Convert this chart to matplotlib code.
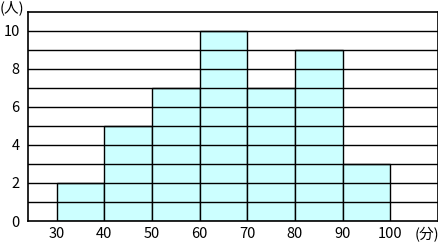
import matplotlib
matplotlib.use('Agg')
import matplotlib.pyplot as plt

plt.rcParams['font.family'] = ['Noto Sans CJK JP', 'DejaVu Sans']

# score bins (分) and number of people (人)
bin_left  = [30, 40, 50, 60, 70, 80, 90]
counts    = [2, 5, 7, 10, 7, 9, 3]
bin_width = 10
x_ticks   = [30, 40, 50, 60, 70, 80, 90, 100]
y_ticks   = [0, 2, 4, 6, 8, 10]

fig = plt.figure(figsize=(4.39, 2.43), dpi=100)
ax = fig.add_axes([28 / 439, 22 / 243, 410 / 439, 209 / 243])

ax.bar(bin_left, counts, width=bin_width, align='edge',
       color='#ccffff', edgecolor='black', linewidth=1.0, zorder=1)

# horizontal lines every 1 person, across the whole plot
for y in range(1, 11):
    ax.axhline(y, color='black', linewidth=1.0, zorder=2)

ax.set_xlim(24, 110)
ax.set_ylim(0, 11)
ax.set_xticks(x_ticks)
ax.set_yticks(y_ticks)
ax.tick_params(axis='x', length=0, labelsize=10.5, pad=4)
ax.tick_params(axis='y', length=0, labelsize=10.5, pad=6)
for s in ax.spines.values():
    s.set_linewidth(1.2)

fig.text(0.0, 1 - 8 / 243, '(人)', fontsize=10.5, ha='left', va='center')
fig.text(1.0, 8 / 243, '(分)', fontsize=10.5, ha='right', va='center')

plt.savefig('out.png', dpi=100)
plt.close()
